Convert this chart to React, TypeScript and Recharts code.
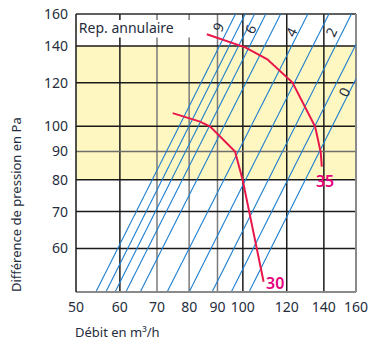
import { LineChart, Line, XAxis, YAxis, ReferenceLine, ReferenceArea, ReferenceDot, Label } from 'recharts'

// axis ticks
const xTicks = [50, 60, 70, 80, 90, 100, 120, 140, 160]
const yTicks = [60, 70, 80, 90, 100, 120, 140, 160]
const xGrid = [60, 70, 80, 90, 100, 120, 140]
const yGrid = [60, 70, 80, 90, 100, 120, 140]
const grayX = [70, 80, 90]
const grayY = [90]

// valve setting lines (9 .. 0): start at 50 Pa, end on top or right border
const lineStartQ = [54.3, 56.6, 58.8, 61.5, 65.3, 73.0, 80.0, 88.0, 95.3, 102.6]
const lineEndQ = [97, 101, 105, 110, 117, 131, 143, 157, 160, 160]
const lineEndP = [160, 160, 160, 160, 160, 160, 160, 160, 141, 122]

const labelText = ['9', '6', '4', '2', '0']
const labelQ = [90.2, 103.1, 122.2, 144.3, 152.3]
const labelP = [151.5, 150.3, 148.4, 148.4, 115.5]

// pump curves
const curve30Q = [74.7, 83.7, 87.3, 96.8, 99.9, 109]
const curve30P = [105.7, 102, 99.9, 90, 80, 52.2]
const curve35Q = [86.1, 101.2, 110.7, 122.9, 135, 138.2, 138.8]
const curve35P = [147, 139, 132.4, 120.1, 99.9, 89.7, 84.5]

const font = '"Noto Sans", sans-serif'
const ink = '#252d3d'
const red = '#E8174A'
const pink = '#E5007D'

const curve30 = curve30Q.map((q, i) => ({ q, p: curve30P[i] }))
const curve35 = curve35Q.map((q, i) => ({ q, p: curve35P[i] }))

const textAt = (txt: string, opts: any) => (props: any) => (
  <text
    x={props.cx}
    y={props.cy}
    textAnchor={opts.anchor || 'middle'}
    dominantBaseline="central"
    transform={opts.angle ? `rotate(${opts.angle} ${props.cx} ${props.cy})` : undefined}
    fontSize={opts.size || 14}
    fontWeight={opts.weight || 400}
    fill={opts.fill || ink}
    fontFamily={font}
  >
    {txt}
  </text>
)

export default function App() {
  return (
    <div style={{ position: 'absolute', left: 0, top: 0 }}>
      <LineChart width={368} height={340} margin={{ top: 14, right: 12, bottom: 0, left: 0 }}>
        <XAxis
          type="number"
          dataKey="q"
          scale="log"
          domain={[50, 160]}
          ticks={xTicks}
          allowDataOverflow
          height={48}
          tickLine={false}
          tickMargin={4}
          axisLine={{ stroke: '#8a8a8a', strokeWidth: 2 }}
          tick={{ fontSize: 14, fill: ink, fontFamily: font }}
        >
          <Label
            content={() => (
              <text x={75} y={337} fontSize={13} fill={ink} fontFamily={font}>
                Débit en m³/h
              </text>
            )}
          />
        </XAxis>
        <YAxis
          type="number"
          dataKey="p"
          scale="log"
          domain={[50, 160]}
          ticks={yTicks}
          allowDataOverflow
          width={76}
          tickLine={false}
          axisLine={{ stroke: '#1a1a1a', strokeWidth: 1.5 }}
          tick={{ fontSize: 14, fill: ink, fontFamily: font }}
        >
          <Label
            content={() => (
              <text x={21} y={292} transform="rotate(-90 21 292)" fontSize={13} fill={ink} fontFamily={font}>
                Différence de pression en Pa
              </text>
            )}
          />
        </YAxis>

        <ReferenceArea x1={50} x2={160} y1={80} y2={140} fill="#FFF7C2" fillOpacity={1} stroke="none" />

        {xGrid.map((v) =>
          v <= 80 ? (
            [
              <ReferenceLine key={`a${v}`} segment={[{ x: v, y: 50 }, { x: v, y: 145 }]} stroke={grayX.includes(v) ? '#7a7a7a' : '#1a1a1a'} strokeWidth={1.5} />,
              <ReferenceLine key={`b${v}`} segment={[{ x: v, y: 156 }, { x: v, y: 160 }]} stroke={grayX.includes(v) ? '#7a7a7a' : '#1a1a1a'} strokeWidth={1.5} />,
            ]
          ) : (
            <ReferenceLine key={`x${v}`} x={v} stroke={grayX.includes(v) ? '#7a7a7a' : '#1a1a1a'} strokeWidth={1.5} />
          )
        )}
        {yGrid.map((v) => (
          <ReferenceLine key={`y${v}`} y={v} stroke={grayY.includes(v) ? '#6e6e6e' : '#1a1a1a'} strokeWidth={1.5} />
        ))}
        <ReferenceLine y={160} stroke="#2a2a2a" strokeWidth={1.5} />
        <ReferenceLine x={160} stroke="#8a8a8a" strokeWidth={2} />

        {lineStartQ.map((q, i) => (
          <Line
            key={`s${i}`}
            data={[{ q, p: 50 }, { q: lineEndQ[i], p: lineEndP[i] }]}
            dataKey="p"
            stroke="#1E7FCF"
            strokeWidth={1.1}
            dot={false}
            isAnimationActive={false}
          />
        ))}

        <Line data={curve30} dataKey="p" stroke={red} strokeWidth={2} dot={false} isAnimationActive={false} />
        <Line data={curve35} dataKey="p" stroke={red} strokeWidth={2} dot={false} isAnimationActive={false} />

        {labelText.map((t, i) => (
          <ReferenceDot key={`l${i}`} x={labelQ[i]} y={labelP[i]} r={0} shape={textAt(t, { angle: -64, size: 14 })} />
        ))}
        <ReferenceDot x={50.6} y={151} r={0} shape={textAt('Rep. annulaire', { anchor: 'start', size: 14 })} />
        <ReferenceDot x={140.7} y={79.6} r={0} shape={textAt('35', { size: 16, weight: 600, fill: pink })} />
        <ReferenceDot x={114.4} y={52} r={0} shape={textAt('30', { size: 16, weight: 600, fill: pink })} />
      </LineChart>
    </div>
  )
}
